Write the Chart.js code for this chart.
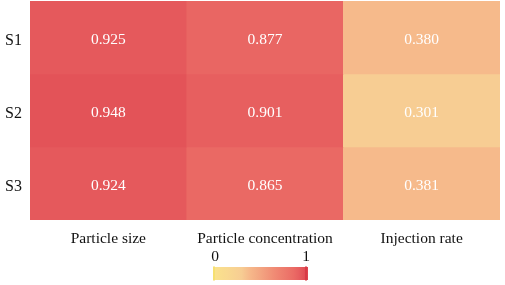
<!DOCTYPE html>
<html>
<head>
<meta charset="utf-8">
<script src="https://cdn.jsdelivr.net/npm/chart.js@4/dist/chart.umd.min.js"></script>
<style>
html,body{margin:0;padding:0;background:#fff;}
#wrap{width:505px;height:285px;position:relative;}
</style>
</head>
<body>
<div id="wrap"><canvas id="c" width="505" height="285"></canvas></div>
<script>
// ---- data ----
const columns = ["Particle size", "Particle concentration", "Injection rate"];
const rows = ["S1", "S2", "S3"];
const valuesS1 = [0.925, 0.877, 0.380];
const valuesS2 = [0.948, 0.901, 0.301];
const valuesS3 = [0.924, 0.865, 0.381];
const colorbarTicks = ["0", "1"];

const allValues = [valuesS1, valuesS2, valuesS3];

// ---- colour map (0 -> yellow, 1 -> red) ----
const stops = [
  [0.00, [250, 228, 140]],
  [0.30, [247, 205, 147]],
  [0.38, [246, 186, 139]],
  [0.65, [240, 138, 116]],
  [0.87, [234, 104, 100]],
  [0.95, [227, 82, 88]],
  [1.00, [222, 66, 78]]
];
function cmap(v) {
  for (let i = 1; i < stops.length; i++) {
    if (v <= stops[i][0]) {
      const [a, ca] = stops[i - 1], [b, cb] = stops[i];
      const t = (v - a) / (b - a);
      const c = ca.map((x, k) => Math.round(x + (cb[k] - x) * t));
      return `rgb(${c[0]},${c[1]},${c[2]})`;
    }
  }
  const c = stops[stops.length - 1][1];
  return `rgb(${c[0]},${c[1]},${c[2]})`;
}

const FONT = "'Liberation Serif', 'Times New Roman', serif";

const datasets = rows.map((r, ri) => ({
  label: r,
  data: columns.map(() => [ri, ri + 1]),
  values: allValues[ri],
  backgroundColor: allValues[ri].map(cmap),
  borderWidth: 0,
  categoryPercentage: 1.0,
  barPercentage: 1.0,
  grouped: false
}));

const labelPlugin = {
  id: 'cellLabels',
  afterDatasetsDraw(chart) {
    const ctx = chart.ctx;
    ctx.save();
    ctx.fillStyle = '#ffffff';
    ctx.font = `15.5px ${FONT}`;
    ctx.textAlign = 'center';
    ctx.textBaseline = 'middle';
    chart.data.datasets.forEach((ds, di) => {
      const meta = chart.getDatasetMeta(di);
      meta.data.forEach((el, i) => {
        const cy = (el.y + el.base) / 2;
        ctx.fillText(ds.values[i].toFixed(3), el.x, cy + 2);
      });
    });
    ctx.restore();
  }
};

const colorbarPlugin = {
  id: 'colorbar',
  afterDraw(chart) {
    const ctx = chart.ctx;
    const x0 = 213, x1 = 308, y0 = 267, y1 = 280;
    ctx.save();
    const g = ctx.createLinearGradient(x0, 0, x1, 0);
    for (let i = 0; i <= 20; i++) {
      const v = i / 20;
      g.addColorStop(v, cmap(v));
    }
    ctx.fillStyle = g;
    ctx.fillRect(x0, y0, x1 - x0, y1 - y0);
    // end markers
    ctx.fillStyle = '#f6e070';
    ctx.fillRect(x0, y0 - 0.5, 2, y1 - y0 + 1);
    ctx.fillStyle = '#d83a46';
    ctx.fillRect(x1 - 3, y0 - 0.5, 2, y1 - y0 + 1);
    ctx.fillStyle = '#111';
    ctx.font = `15.5px ${FONT}`;
    ctx.textAlign = 'center';
    ctx.textBaseline = 'middle';
    ctx.fillText(colorbarTicks[0], 215, 257);
    ctx.fillText(colorbarTicks[1], 306, 257);
    ctx.restore();
  }
};

new Chart(document.getElementById('c'), {
  type: 'bar',
  data: { labels: columns, datasets },
  plugins: [labelPlugin, colorbarPlugin],
  options: {
    responsive: false,
    animation: false,
    devicePixelRatio: 1,
    layout: { padding: { left: 0, right: 5, top: 1, bottom: 37 } },
    plugins: { legend: { display: false }, tooltip: { enabled: false } },
    scales: {
      x: {
        type: 'category',
        grid: { display: false, drawTicks: false },
        border: { display: false },
        ticks: { color: '#111', font: { family: FONT, size: 15.5 }, padding: 10, maxRotation: 0, autoSkip: false },
        afterFit(s) { s.height = 28; s.paddingLeft = 0; s.paddingRight = 0; }
      },
      y: {
        type: 'linear',
        min: 0, max: 3,
        reverse: true,
        grid: { display: false, drawTicks: false },
        border: { display: false },
        afterBuildTicks(s) { s.ticks = rows.map((r, i) => ({ value: i + 0.5 })); },
        ticks: {
          color: '#111',
          font: { family: FONT, size: 16 },
          padding: 8,
          labelOffset: 3,
          callback(v) { return rows[Math.floor(v)]; }
        },
        afterFit(s) { s.width = 30; s.paddingTop = 0; s.paddingBottom = 0; }
      }
    }
  }
});
</script>
</body>
</html>
